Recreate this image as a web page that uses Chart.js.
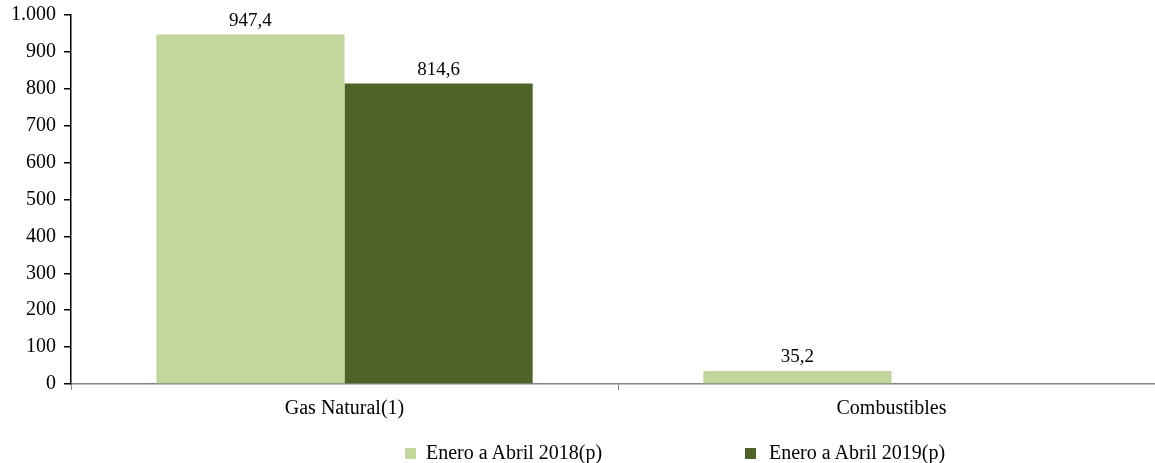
<!DOCTYPE html>
<html><head><meta charset="utf-8">
<script src="https://cdn.jsdelivr.net/npm/chart.js@4/dist/chart.umd.min.js"></script>
<style>
html,body{margin:0;padding:0;background:#fff;overflow:hidden;width:1155px;height:463px;}
#wrap{position:absolute;left:0;top:-5px;width:1165px;height:468px;}
#legend{position:absolute;top:440px;left:0;width:1155px;height:24px;font-family:"Liberation Serif",serif;font-size:20px;color:#000;}
.txt{position:absolute;top:0;line-height:24px;white-space:nowrap;}
.sw{position:absolute;top:8px;width:11px;height:11px;}
</style></head>
<body>
<div id="wrap"><canvas id="c"></canvas></div>
<div id="legend"></div>
<script>
const categories = ["Gas Natural(1)", "Combustibles"];
const seriesNames = ["Enero a Abril 2018(p)", "Enero a Abril 2019(p)"];
const values2018 = [947.4, 35.2];
const values2019 = [814.6, null];
const yTicks = [0,100,200,300,400,500,600,700,800,900,1000];
const colors = ["#C3D69B", "#4F6228"];

const fmt = v => v.toLocaleString('es-ES',{minimumFractionDigits:1,maximumFractionDigits:1});
const fmtTick = v => v >= 1000 ? (Math.floor(v/1000) + "." + String(v%1000).padStart(3,"0")) : String(v);

const FONT = "'Liberation Serif', serif";

const labelPlugin = {
  id: 'barLabels',
  afterDatasetsDraw(chart){
    const ctx = chart.ctx;
    ctx.save();
    ctx.font = "19px " + FONT;
    ctx.fillStyle = "#000";
    ctx.textAlign = "center";
    ctx.textBaseline = "bottom";
    chart.data.datasets.forEach((ds,i)=>{
      const meta = chart.getDatasetMeta(i);
      meta.data.forEach((bar,j)=>{
        const v = ds.data[j];
        if (v === null || v === undefined) return;
        ctx.fillText(fmt(v), bar.x, bar.y - 4);
      });
    });
    ctx.restore();
  }
};

new Chart(document.getElementById('c'), {
  type: 'bar',
  data: {
    labels: categories,
    datasets: [
      {label: seriesNames[0], data: values2018, backgroundColor: colors[0], borderWidth: 0},
      {label: seriesNames[1], data: values2019, backgroundColor: colors[1], borderWidth: 0}
    ]
  },
  options: {
    responsive: true,
    maintainAspectRatio: false,
    animation: false,
    events: [],
    layout: {padding: {left: 0, right: 0, top: 10, bottom: 35}},
    plugins: {legend: {display: false}, tooltip: {enabled: false}},
    datasets: {bar: {categoryPercentage: 0.688, barPercentage: 1.0}},
    scales: {
      x: {
        grid: {display: true, drawOnChartArea: false, drawTicks: true, tickLength: 6, color: "#868686", offset: true},
        border: {color: "#868686", width: 1.5},
        ticks: {font: {family: FONT, size: 20}, color: "#000", padding: 7}
      },
      y: {
        min: 0, max: 1000,
        afterBuildTicks(scale){ scale.ticks = yTicks.map(v=>({value:v})); },
        afterFit(scale){ scale.width = 71; },
        grid: {display: true, drawOnChartArea: false, drawTicks: true, tickLength: 7, color: "#000", lineWidth: 1.5},
        border: {color: "#000", width: 1.5},
        ticks: {font: {family: FONT, size: 20}, color: "#000", padding: 8, callback: v => fmtTick(v)}
      }
    }
  },
  plugins: [labelPlugin]
});

const lg = document.getElementById('legend');
const swLefts = [405, 745];
const txtLefts = [426, 769];
seriesNames.forEach((n,i)=>{
  const s = document.createElement('div');
  s.className = 'sw';
  s.style.left = swLefts[i] + 'px';
  s.style.background = colors[i];
  lg.appendChild(s);
  const t = document.createElement('div');
  t.className = 'txt';
  t.style.left = txtLefts[i] + 'px';
  t.textContent = n;
  lg.appendChild(t);
});
</script>
</body></html>
